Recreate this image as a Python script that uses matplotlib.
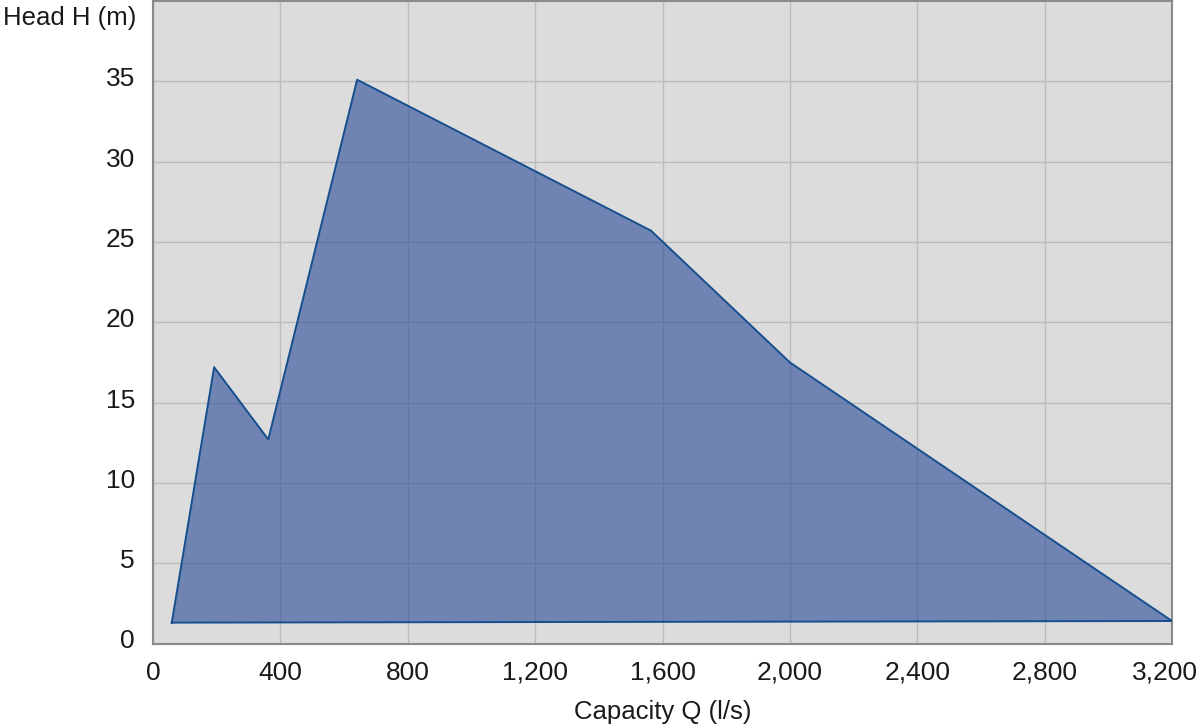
import matplotlib.pyplot as plt
from matplotlib.ticker import FuncFormatter
from matplotlib.transforms import ScaledTranslation

# Operating range envelope (capacity in l/s, head in m)
capacity = [59, 192, 362, 641, 1564, 2000, 3200, 59]
head = [1.3, 17.2, 12.7, 35.1, 25.7, 17.5, 1.4, 1.3]

x_ticks = list(range(0, 3201, 400))
y_ticks = list(range(0, 36, 5))

plt.rcParams['font.family'] = ['Liberation Sans', 'DejaVu Sans']
plt.rcParams['font.size'] = 18.5

fig = plt.figure(figsize=(12, 7.27), dpi=100)
ax = fig.add_axes([153 / 1200, (727 - 643.5) / 727, 1019 / 1200, 642.5 / 727])
ax.set_facecolor('#dcdcdc')

ax.grid(True, color='#bcbcbc', linewidth=1.0)
ax.set_axisbelow(True)

ax.fill(capacity, head, facecolor=(40 / 255, 73 / 255, 153 / 255), alpha=0.6,
        edgecolor='none', zorder=2)
ax.plot(capacity, head, color='#174f8e', linewidth=1.4, zorder=3)

ax.set_xlim(0, 3200)
ax.set_ylim(0, 40)
ax.set_xticks(x_ticks)
ax.set_yticks(y_ticks)
ax.xaxis.set_major_formatter(FuncFormatter(lambda v, p: f'{int(v):,}'))
ax.tick_params(length=0, colors='#1a1a1a', labelsize=19)
ax.tick_params(axis='y', pad=13)
ax.tick_params(axis='x', pad=12.5)

# nudge y labels up a little, keep last x label inside the figure
shift = ScaledTranslation(0, 2 / 100, fig.dpi_scale_trans)
for lab in ax.get_yticklabels():
    lab.set_verticalalignment('center')
    lab.set_transform(lab.get_transform() + shift)
last = ax.get_xticklabels()[-1]
last.set_horizontalalignment('right')
last.set_transform(last.get_transform() + ScaledTranslation(26 / 100, 0, fig.dpi_scale_trans))

for s in ax.spines.values():
    s.set_color('#8a8a8a')
    s.set_linewidth(1.5)

ax.set_xlabel('Capacity Q (l/s)', labelpad=11, color='#1a1a1a', fontsize=18.5)
ax.text(-0.0165, 0.992, 'Head H (m)', transform=ax.transAxes, ha='right', va='top',
        color='#1a1a1a', fontsize=18.5)

fig.savefig('out.png', dpi=100)
